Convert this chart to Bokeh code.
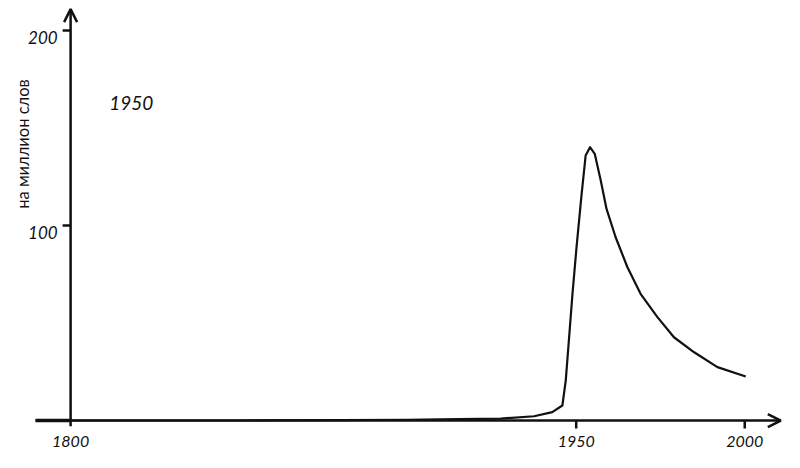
import math
from bokeh.plotting import figure
from bokeh.models import Arrow, OpenHead, Range1d
from bokeh.core.properties import value
from bokeh.embed import file_html
from bokeh.resources import INLINE

# ---- data ----
years = [1800, 1850, 1880, 1900, 1915, 1927.6, 1937.5, 1942.9, 1945.9, 1946.9,
         1947.9, 1948.9, 1950.1, 1951.6, 1952.8, 1954.1, 1955.5, 1957.3, 1959.0,
         1961.7, 1965.2, 1969.1, 1974.1, 1979.0, 1985.0, 1991.9, 2000.3]
per_million = [0.0, 0.0, 0.2, 0.4, 0.7, 1.0, 2.2, 4.3, 7.7, 20.5,
               42.7, 65.0, 88.9, 116.0, 135.9, 140.2, 136.8, 123.0, 108.5,
               94.0, 78.6, 65.0, 53.0, 42.7, 35.0, 27.4, 22.6]

x_ticks = [1800, 1950, 2000]
x_tick_labels = ["1800", "1950", "2000"]
y_ticks = [100, 200]
y_tick_labels = ["100", "200"]
y_label = "на миллион слов"
note_text = "1950"
note_x = [1818]
note_y = [163]

# ---- layout constants ----
X0, X1 = 1779.2, 2011.8
Y0, Y1 = -16.4, 215.4
AXIS_X_START, AXIS_X_END = 1789.6, 2010.7
AXIS_Y_START, AXIS_Y_END = -3, 211.0
INK = "#111111"
NUM_FONT = value("Lato")

p = figure(width=784, height=452, x_range=Range1d(X0, X1), y_range=Range1d(Y0, Y1),
           x_axis_type=None, y_axis_type=None, toolbar_location=None,
           output_backend="svg", min_border=0)
p.outline_line_color = None
p.grid.visible = False
p.background_fill_color = "white"
p.border_fill_color = "white"

# axes drawn as arrows in data space
p.add_layout(Arrow(end=OpenHead(size=13, line_width=2.5, line_color=INK),
                   x_start=AXIS_X_START, y_start=0, x_end=AXIS_X_END, y_end=0,
                   line_width=2.5, line_color=INK))
p.add_layout(Arrow(end=OpenHead(size=13, line_width=2.5, line_color=INK),
                   x_start=x_ticks[0], y_start=AXIS_Y_START, x_end=x_ticks[0], y_end=AXIS_Y_END,
                   line_width=2.5, line_color=INK))
p.segment(x0=[AXIS_X_START], y0=[0], x1=[x_ticks[0]], y1=[0], line_width=3.5, line_color=INK)

# ticks
p.ray(x=x_ticks[1:], y=[0] * (len(x_ticks) - 1), length=8, length_units="screen",
      angle=-math.pi / 2, line_width=2.5, line_color=INK)
p.ray(x=[x_ticks[0]] * len(y_ticks), y=y_ticks, length=8, length_units="screen",
      angle=math.pi, line_width=2.5, line_color=INK)

# tick labels
p.text(x=x_ticks, y=[0] * len(x_ticks), text=x_tick_labels, y_offset=21,
       text_align="center", text_baseline="middle", text_font=NUM_FONT,
       text_font_style="italic", text_font_size="16px", text_color=INK)
p.text(x=[x_ticks[0]] * len(y_ticks), y=y_ticks, text=y_tick_labels, x_offset=-13, y_offset=7,
       text_align="right", text_baseline="middle", text_font=NUM_FONT,
       text_font_style="italic", text_font_size="17px", text_color=INK)

# y axis title
p.text(x=[x_ticks[0]], y=[141.8], text=[y_label], x_offset=-48, angle=math.pi / 2,
       text_align="center", text_baseline="middle", text_font=value("Lato"),
       text_font_size="16.5px", text_color=INK)

# annotation
p.text(x=note_x, y=note_y, text=[note_text], text_align="center", text_baseline="middle",
       text_font=NUM_FONT, text_font_style="italic", text_font_size="19px", text_color=INK)

# data line
p.line(years, per_million, line_width=2.2, line_color=INK, line_join="round")

open("out.html", "w").write(file_html(p, INLINE))
